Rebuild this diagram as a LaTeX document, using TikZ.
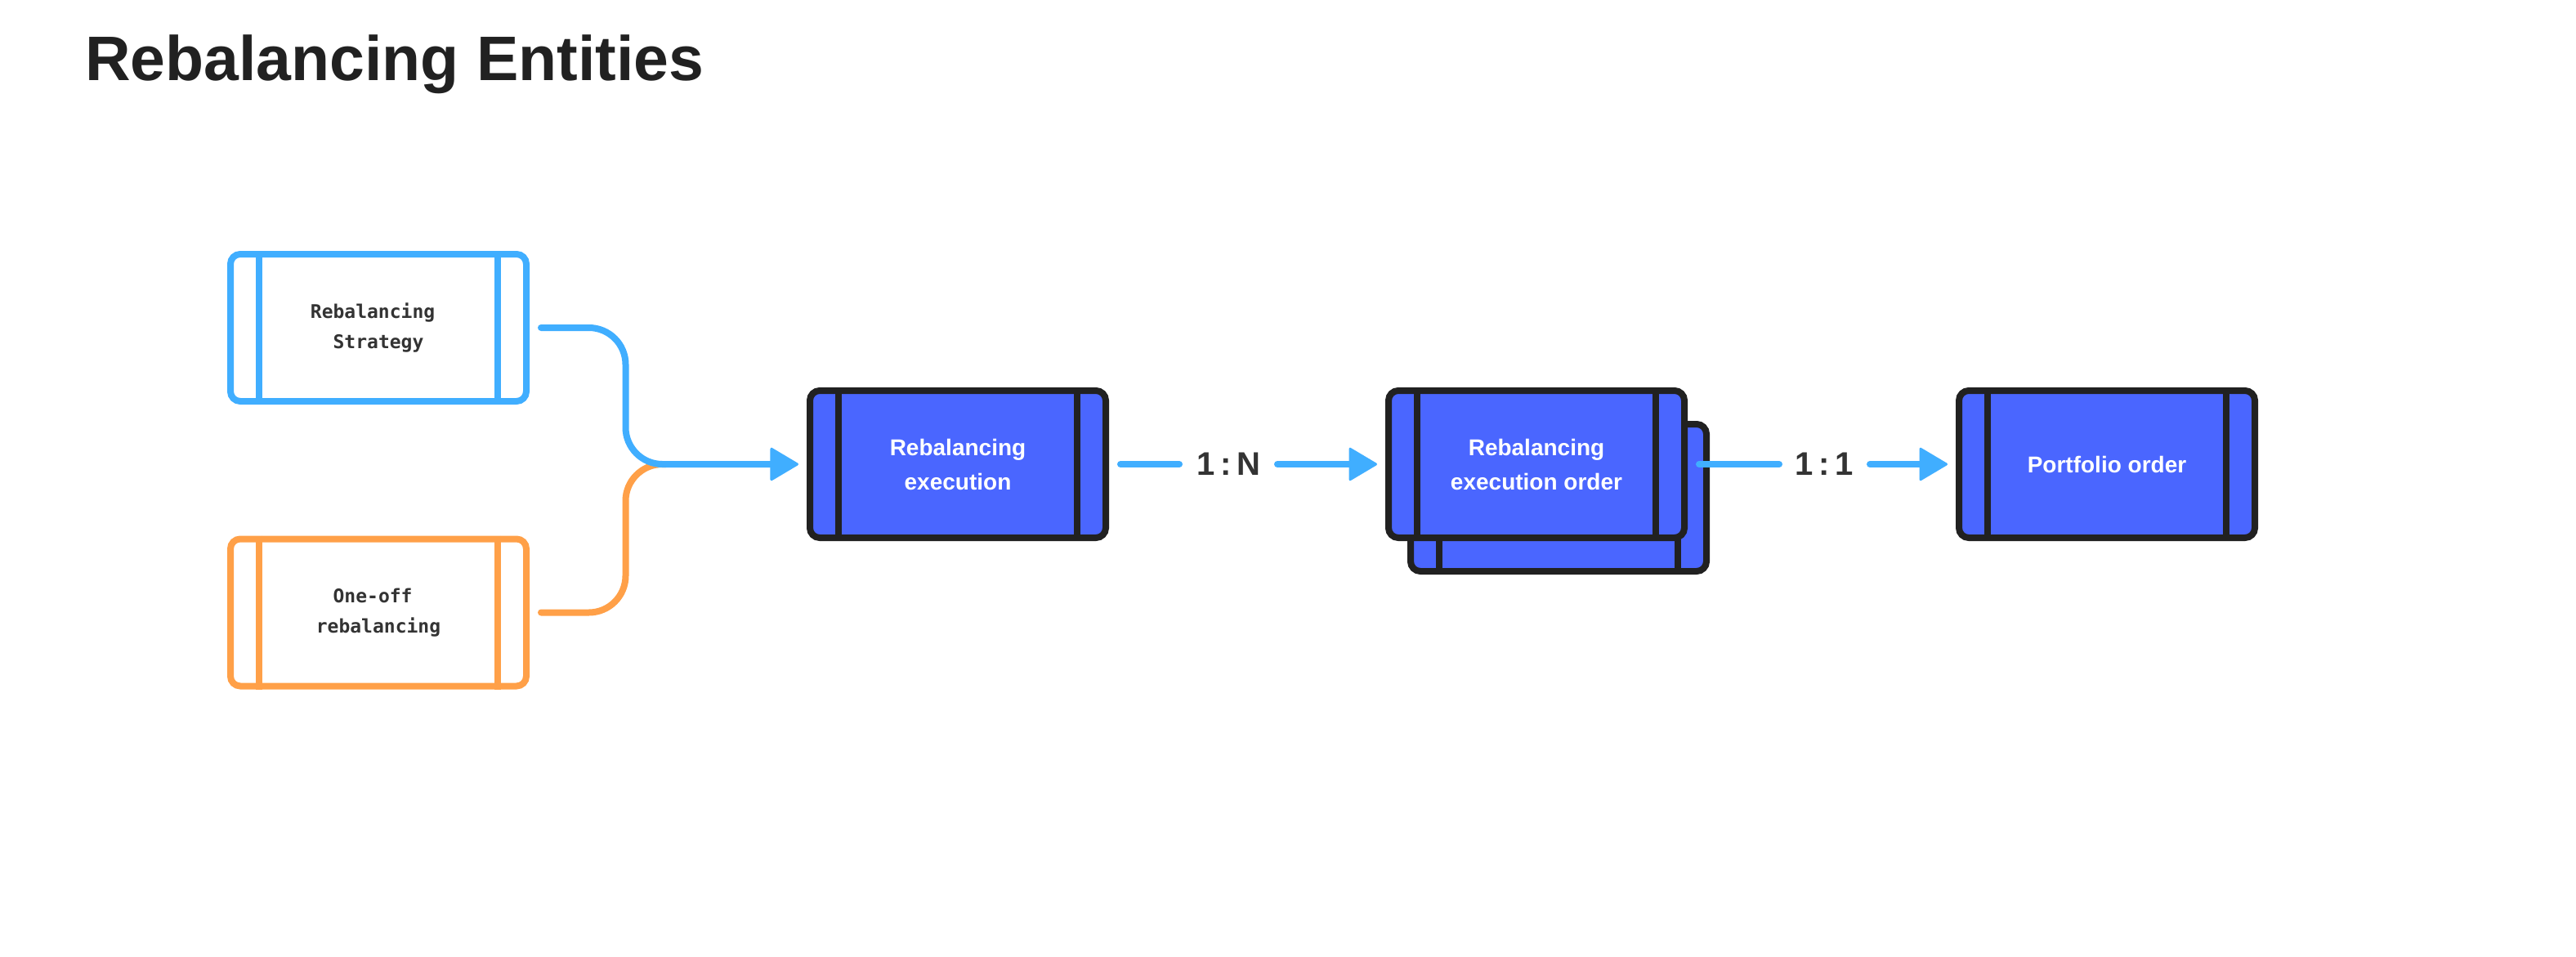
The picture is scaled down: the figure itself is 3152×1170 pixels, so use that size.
\documentclass[tikz,border=0pt]{standalone}
\usepackage{fontspec}
\setmainfont{Liberation Sans}
\newfontfamily\boxmono{DejaVu Sans Mono}
\usetikzlibrary{arrows.meta}
\definecolor{lineblue}{HTML}{40AEFF}
\definecolor{lineorange}{HTML}{FFA048}
\definecolor{fillblue}{HTML}{4A66FF}
\definecolor{inkdark}{HTML}{212121}
\definecolor{labelgray}{HTML}{333333}
\begin{document}
\begin{tikzpicture}[x=1pt,y=-1pt,
  entity/.style={rectangle, rounded corners=12pt, line width=8pt,
    minimum width=362pt, minimum height=180pt, inner sep=0pt, outer sep=4pt, align=center},
  srcbox/.style={entity, fill=white, text=labelgray,
    font=\boxmono\bfseries\fontsize{23}{37}\selectfont},
  darkbox/.style={entity, draw=inkdark, fill=fillblue, text=white,
    font=\bfseries\fontsize{28}{42}\selectfont},
  bar/.style={line width=8pt},
  conn/.style={line width=8pt, line cap=round, line join=round},
  tip/.style={-{Triangle[length=36pt,width=42pt,line width=3pt,round]}},
  ratio/.style={inner sep=0pt, outer sep=0pt, text=labelgray,
    font=\bfseries\fontsize{40}{48}\selectfont}
]
\useasboundingbox (0,0) rectangle (3152,1170);
\fill[white] (0,0) rectangle (3152,1170);

\node[anchor=base west, inner sep=0pt, text=inkdark,
  font=\bfseries\fontsize{77}{90}\selectfont] (title) at (104,98) {Rebalancing Entities};

% source boxes
\node[srcbox, draw=lineblue] (strat) at (463,401) {Rebalancing\hphantom{x}\\Strategy};
\node[srcbox, draw=lineorange] (oneoff) at (463,749.5) {One-off\hphantom{x}\\rebalancing};
\draw[bar, lineblue] ([xshift=39pt]strat.north west) -- ([xshift=39pt]strat.south west);
\draw[bar, lineblue] ([xshift=-39pt]strat.north east) -- ([xshift=-39pt]strat.south east);
\draw[bar, lineorange] ([xshift=39pt]oneoff.north west) -- ([xshift=39pt]oneoff.south west);
\draw[bar, lineorange] ([xshift=-39pt]oneoff.north east) -- ([xshift=-39pt]oneoff.south east);

% entity boxes
\node[darkbox] (exec) at (1172,568) {Rebalancing\\execution};
\node[darkbox] (eoback) at (1907,609) {};
\foreach \n in {exec,eoback}{
  \draw[bar, inkdark] ([xshift=39pt]\n.north west) -- ([xshift=39pt]\n.south west);
  \draw[bar, inkdark] ([xshift=-39pt]\n.north east) -- ([xshift=-39pt]\n.south east);
}
\node[darkbox] (eo) at (1880,568) {Rebalancing\\execution order};
\node[darkbox] (port) at (2578,568) {Portfolio order};
\foreach \n in {eo,port}{
  \draw[bar, inkdark] ([xshift=39pt]\n.north west) -- ([xshift=39pt]\n.south west);
  \draw[bar, inkdark] ([xshift=-39pt]\n.north east) -- ([xshift=-39pt]\n.south east);
}

% merge connectors
\coordinate (j) at (765.5,568);
\coordinate (jend) at (815,568);
\draw[conn, lineorange, rounded corners=45pt] ([xshift=14pt]oneoff.east) -| (j) -- (jend);
\draw[conn, lineblue, rounded corners=45pt, tip] ([xshift=14pt]strat.east) -| (j) -- ([xshift=-10pt]exec.west);

% ratio connectors
\node[ratio, minimum width=120pt] (n1) at (1503,568) {1\,:\,N};
\draw[conn, lineblue] ([xshift=14pt]exec.east) -- (n1.west);
\draw[conn, lineblue, tip] (n1.east) -- ([xshift=-10pt]eo.west);

\node[ratio, minimum width=111pt] (n2) at (2232.5,568) {1\,:\,1};
\draw[conn, lineblue] ([xshift=14pt]eo.east) -- (n2.west);
\draw[conn, lineblue, tip] (n2.east) -- ([xshift=-10pt]port.west);
\end{tikzpicture}
\end{document}
